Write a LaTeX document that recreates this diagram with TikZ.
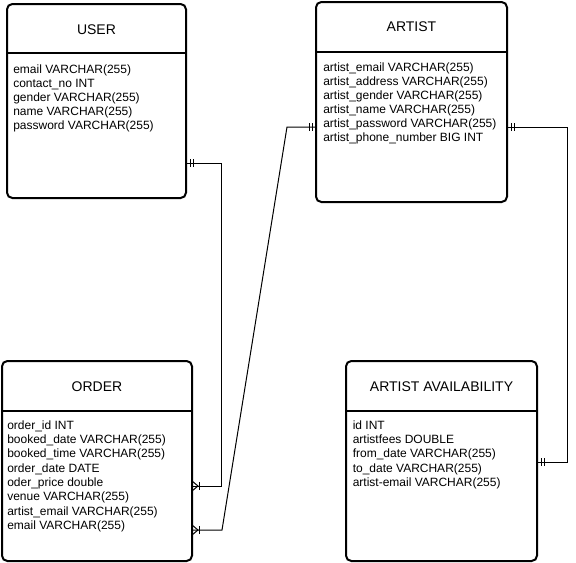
\documentclass[tikz,border=0pt]{standalone}
\usepackage{fontspec}
\setmainfont{Liberation Sans}
\usetikzlibrary{calc}
\tikzset{
  entity/.style={draw, line width=1.5pt, rounded corners=4pt, anchor=north west, inner sep=0pt, outer sep=0pt},
  sepline/.style={line width=1.5pt},
  ttl/.style={font=\fontsize{10.5}{12}\selectfont, text height=7.5pt, text depth=0pt, inner sep=0pt, anchor=center},
  fld/.style={font=\fontsize{9}{10.5}\selectfont, text height=6.4pt, text depth=0pt, inner sep=0pt, anchor=west},
  conn/.style={line width=0.75pt},
  tickmark/.style={line width=0.75pt}
}
\begin{document}
\begin{tikzpicture}[x=0.75pt,y=-0.75pt]
\useasboundingbox (0,0) rectangle (576,562);

% entities
\node[entity, minimum width={179*0.75pt}, minimum height={194*0.75pt}] (user) at (7,4) {};
\node[entity, minimum width={191*0.75pt}, minimum height={200*0.75pt}] (artist) at (316,2) {};
\node[entity, minimum width={190*0.75pt}, minimum height={200*0.75pt}] (order) at (2,361) {};
\node[entity, minimum width={191*0.75pt}, minimum height={200*0.75pt}] (avail) at (346,361) {};

% header separators
\draw[sepline] ($(user.north west)+(0,49)$) -- ($(user.north east)+(0,49)$);
\draw[sepline] ($(artist.north west)+(0,50)$) -- ($(artist.north east)+(0,50)$);
\draw[sepline] ($(order.north west)+(0,50)$) -- ($(order.north east)+(0,50)$);
\draw[sepline] ($(avail.north west)+(0,50)$) -- ($(avail.north east)+(0,50)$);

% titles
\node[ttl] (userT) at (96.5,29) {USER};
\node[ttl] (artistT) at (411.5,26) {ARTIST};
\node[ttl] (orderT) at (97,386) {ORDER};
\node[ttl] (availT) at (441.5,386) {ARTIST AVAILABILITY};

% fields
\foreach \t [count=\i from 0] in {email VARCHAR(255), contact\_no INT, gender VARCHAR(255), name VARCHAR(255), password VARCHAR(255)}
  \node[fld] (userF\i) at (13,{69+14*\i}) {\t};
\foreach \t [count=\i from 0] in {artist\_email VARCHAR(255), artist\_address VARCHAR(255), artist\_gender VARCHAR(255), artist\_name VARCHAR(255), artist\_password VARCHAR(255), artist\_phone\_number BIG INT}
  \node[fld] (artistF\i) at (323,{67+14*\i}) {\t};
\foreach \t [count=\i from 0] in {order\_id INT, booked\_date VARCHAR(255), booked\_time VARCHAR(255), order\_date DATE, oder\_price double, venue VARCHAR(255), artist\_email VARCHAR(255), email VARCHAR(255)}
  \node[fld] (orderF\i) at (7,{425+14.3*\i}) {\t};
\foreach \t [count=\i from 0] in {id INT, artistfees DOUBLE, from\_date VARCHAR(255), to\_date VARCHAR(255), artist-email VARCHAR(255)}
  \node[fld] (availF\i) at (352.5,{425+14.3*\i}) {\t};

% connector end points
\coordinate (uA) at ($(user.north east)+(0,159)$);
\coordinate (oA) at ($(order.north east)+(0,125)$);
\coordinate (aL) at ($(artist.north west)+(0,125)$);
\coordinate (oB) at ($(order.north east)+(0,169)$);
\coordinate (aR) at ($(artist.north east)+(0,125)$);
\coordinate (vR) at ($(avail.north east)+(0,101)$);

% connectors
\draw[conn] (uA) -- ++(35,0) |- (oA);
\draw[conn] (aL) -- ++(-29,0) -- ($(oB)+(30,0)$) -- (oB);
\draw[conn] (aR) -- ++(60,0) |- (vR);

% mandatory-one marks
\foreach \p/\d in {uA/1, aL/-1, aR/1, vR/1} {
  \draw[tickmark] ($(\p)+(4*\d,-4)$) -- ($(\p)+(4*\d,4)$);
  \draw[tickmark] ($(\p)+(7*\d,-4)$) -- ($(\p)+(7*\d,4)$);
}
% one-or-many marks
\foreach \p in {oA, oB} {
  \draw[tickmark] ($(\p)+(0,-5)$) -- ($(\p)+(6,0)$) -- ($(\p)+(0,5)$);
  \draw[tickmark] ($(\p)+(7,-4)$) -- ($(\p)+(7,4)$);
}
\end{tikzpicture}
\end{document}
